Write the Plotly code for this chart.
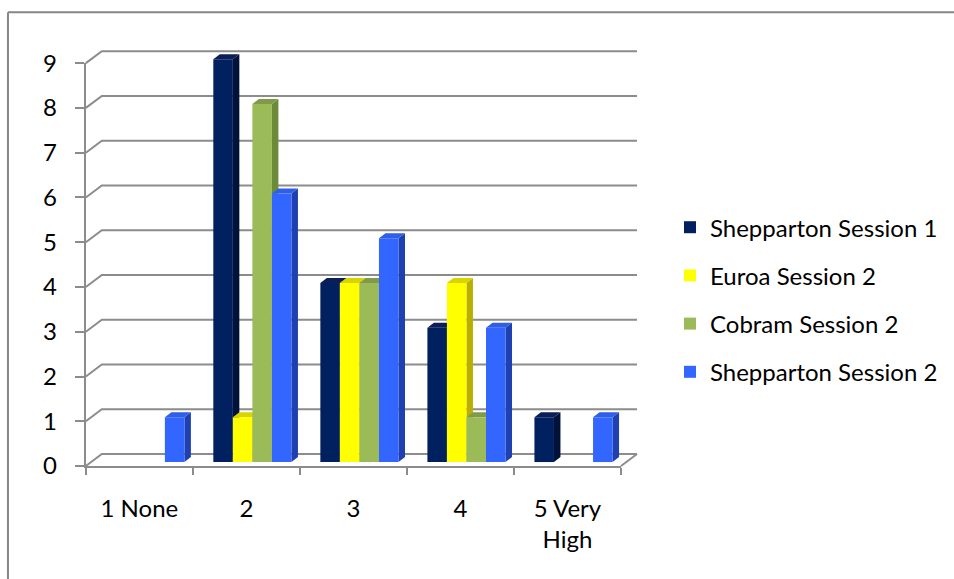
import plotly.graph_objects as go

# ---------------- data ----------------
categories = ["1 None", "2", "3", "4", "5 Very<br>High"]
series_names = ["Shepparton Session 1", "Euroa Session 2", "Cobram Session 2", "Shepparton Session 2"]
shepparton_s1 = [0, 9, 4, 3, 1]
euroa_s2 = [0, 1, 4, 4, 0]
cobram_s2 = [0, 8, 4, 1, 0]
shepparton_s2 = [1, 6, 5, 3, 1]
y_ticks = [0, 1, 2, 3, 4, 5, 6, 7, 8, 9]

series_values = [shepparton_s1, euroa_s2, cobram_s2, shepparton_s2]
front_colors = ["#002060", "#FFFF00", "#9BBB59", "#3366FF"]
side_colors = ["#001238", "#B8B000", "#6B8A3A", "#1F40B0"]
top_colors = ["#0B1E55", "#D9D300", "#7F9B4A", "#2F5EE8"]

# ---------------- geometry (pixels) ----------------
W_PX, H_PX = 954, 579
FX0, FX1 = 86, 622        # front axis left/right (category -0.5 .. 4.5)
FY0, FY9 = 466, 63        # front axis 0 and 9
ncat = len(categories)
ymax = max(y_ticks)
px_per_x = (FX1 - FX0) / ncat
px_per_y = (FY0 - FY9) / ymax

# canvas data ranges (front-plane units)
xa0, xa1 = -0.62, 4.78
ya0, ya1 = -0.2, 9.45
left = FX0 + (xa0 + 0.5) * px_per_x
right = FX0 + (xa1 + 0.5) * px_per_x
top = FY0 - ya1 * px_per_y
bottom = FY0 - ya0 * px_per_y
PW, PH = right - left, bottom - top

# depth offsets in data units
bx, by = 16 / px_per_x, 12 / px_per_y        # back wall
ox, oy = 6 / px_per_x, 4 / px_per_y          # bar front plane
dxb, dyb = 6.5 / px_per_x, 5 / px_per_y      # bar depth

bargap = 0.27
nser = len(series_values)
bw = (1 - bargap) / nser

GRID = "#8C8C8C"
fig = go.Figure()

# ---- back wall gridlines + left diagonals + floor ----
gx, gy = [], []
for k in y_ticks:
    gx += [-0.5, -0.5 + bx, ncat - 0.5 + bx, None]
    gy += [k, k + by, k + by, None]
gx += [ncat - 0.5, ncat - 0.5 + bx, None]
gy += [0, by, None]
fig.add_trace(go.Scatter(x=gx, y=gy, mode="lines", line=dict(color=GRID, width=2),
                         hoverinfo="skip", showlegend=False, xaxis="x", yaxis="y"))

# ---- 3D side and top faces (computed from the data) ----
for s, vals in enumerate(series_values):
    sx, sy, tx, ty = [], [], [], []
    for i, v in enumerate(vals):
        if v == 0:
            continue
        xl = i - (1 - bargap) / 2 + s * bw + ox
        xr = xl + bw
        yb, yt = oy, v + oy
        sx += [xr, xr + dxb, xr + dxb, xr, xr, None]
        sy += [yb, yb + dyb, yt + dyb, yt, yb, None]
        tx += [xl, xr, xr + dxb, xl + dxb, xl, None]
        ty += [yt, yt, yt + dyb, yt + dyb, yt, None]
    fig.add_trace(go.Scatter(x=sx, y=sy, mode="lines", fill="toself", fillcolor=side_colors[s],
                             line=dict(width=0, color=side_colors[s]), hoverinfo="skip",
                             showlegend=False, xaxis="x", yaxis="y"))
    fig.add_trace(go.Scatter(x=tx, y=ty, mode="lines", fill="toself", fillcolor=top_colors[s],
                             line=dict(width=0, color=top_colors[s]), hoverinfo="skip",
                             showlegend=False, xaxis="x", yaxis="y"))

# ---- front faces: real bars on overlay axes ----
for s, vals in enumerate(series_values):
    fig.add_trace(go.Bar(x=list(range(ncat)), y=vals, name=series_names[s],
                         marker=dict(color=front_colors[s], line=dict(width=0)),
                         legendgroup=series_names[s], xaxis="x2", yaxis="y2"))

# ---- dummy trace to create the front-axis subplot ----
fig.add_trace(go.Scatter(x=[None], y=[None], xaxis="x3", yaxis="y3",
                         showlegend=False, hoverinfo="skip"))

FONT = "Lato, Carlito, Calibri, sans-serif"
FS = 24
hidden = dict(showgrid=False, zeroline=False, showline=False, showticklabels=False, ticks="")

fig.update_layout(
    width=W_PX, height=H_PX,
    margin=dict(l=left, r=W_PX - right, t=top, b=H_PX - bottom, pad=0),
    paper_bgcolor="white", plot_bgcolor="rgba(0,0,0,0)",
    font=dict(family=FONT, size=FS, color="black"),
    barmode="group", bargap=bargap, bargroupgap=0,
    xaxis=dict(range=[xa0, xa1], **hidden),
    yaxis=dict(range=[ya0, ya1], **hidden),
    xaxis2=dict(range=[xa0 - ox, xa1 - ox], overlaying="x", anchor="y2", **hidden),
    yaxis2=dict(range=[ya0 - oy, ya1 - oy], overlaying="y", anchor="x2", **hidden),
    xaxis3=dict(
        domain=[(FX0 - left) / PW, (FX1 - left) / PW], range=[-0.5, ncat - 0.5],
        anchor="y3", showgrid=False, zeroline=False, showline=True,
        linecolor=GRID, linewidth=2,
        tickmode="array", tickvals=list(range(ncat)), ticktext=categories, ticks="",
        ticklabelstandoff=20,
        minor=dict(tickmode="array", tickvals=[i - 0.5 for i in range(ncat + 1)],
                   ticks="outside", ticklen=7, tickcolor=GRID, tickwidth=2, showgrid=False),
        fixedrange=True,
    ),
    yaxis3=dict(
        domain=[(bottom - FY0) / PH, (bottom - FY9) / PH], range=[0, ymax],
        anchor="x3", showgrid=False, zeroline=False, showline=True,
        linecolor=GRID, linewidth=2,
        tickmode="array", tickvals=y_ticks, ticks="outside", ticklen=9,
        tickcolor=GRID, tickwidth=2, ticklabelstandoff=13, fixedrange=True,
    ),
    legend=dict(x=(670 - left) / PW, xanchor="left", y=(bottom - 205) / PH, yanchor="top",
                font=dict(family=FONT, size=FS, color="black"),
                traceorder="grouped", tracegroupgap=14, bgcolor="rgba(0,0,0,0)",
                itemclick=False, itemdoubleclick=False),
    showlegend=True,
)

# outer chart border (left and top edges visible)
bxp = (8 - left) / PW
byp = (bottom - 12) / PH
fig.add_shape(type="line", xref="paper", yref="paper", x0=bxp, x1=bxp, y0=byp, y1=-1,
              line=dict(color="#868686", width=2))
fig.add_shape(type="line", xref="paper", yref="paper", x0=bxp, x1=3, y0=byp, y1=byp,
              line=dict(color="#868686", width=2))

fig.write_html("out.html", config={"displayModeBar": False},
               post_script="document.body.style.margin='0';")
